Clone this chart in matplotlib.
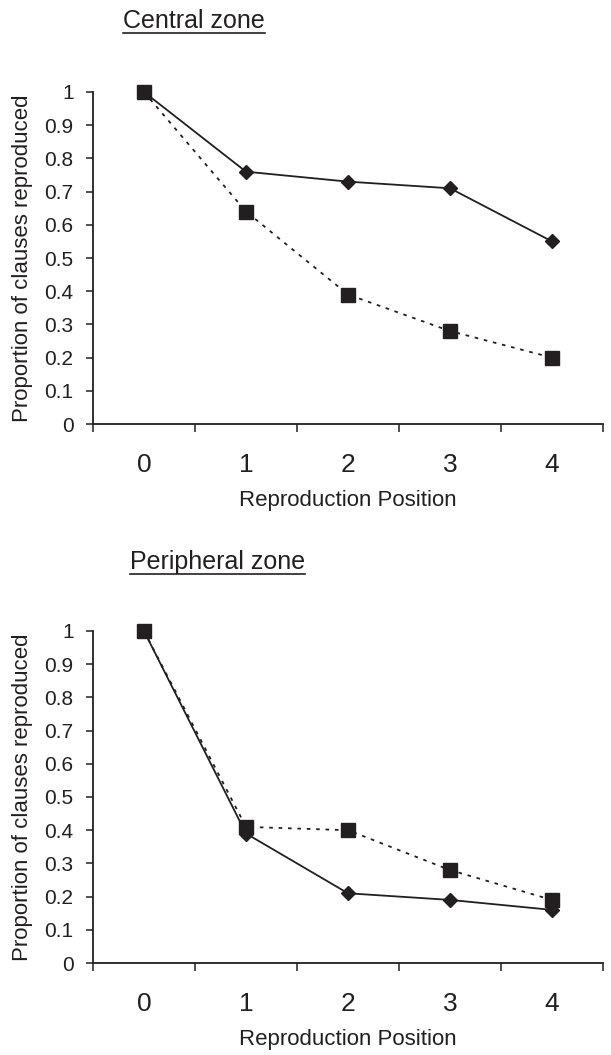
import matplotlib
matplotlib.use("Agg")
import matplotlib.pyplot as plt
from matplotlib.lines import Line2D

plt.rcParams['font.family'] = ['Liberation Sans', 'DejaVu Sans']

positions = [0, 1, 2, 3, 4]
pos_labels = ['0', '1', '2', '3', '4']
y_ticks = [0, 0.1, 0.2, 0.3, 0.4, 0.5, 0.6, 0.7, 0.8, 0.9, 1]
y_labels = ['0', '0.1', '0.2', '0.3', '0.4', '0.5', '0.6', '0.7', '0.8', '0.9', '1']

# central zone
central_diamond = [1.0, 0.76, 0.73, 0.71, 0.55]
central_square = [1.0, 0.64, 0.39, 0.28, 0.20]
# peripheral zone
periph_diamond = [1.0, 0.39, 0.21, 0.19, 0.16]
periph_square = [1.0, 0.41, 0.40, 0.28, 0.19]

ink = '#231f20'

fig = plt.figure(figsize=(6.11, 10.55), dpi=100)
ax1 = fig.add_axes([0.1522, 0.5981, 0.8347, 0.3147])
ax2 = fig.add_axes([0.1522, 0.0872, 0.8347, 0.3147])


def draw_panel(ax, diamond, square):
    ax.plot(positions, diamond, color=ink, lw=1.3, marker='D', ms=7,
            mfc=ink, mec=ink, clip_on=False, zorder=3)
    ax.plot(positions, square, color=ink, lw=1.3, ls=(0, (2, 3.2)), marker='s',
            ms=10, mfc=ink, mec=ink, clip_on=False, zorder=4)
    ax.set_xlim(-0.5, 4.5)
    ax.set_ylim(0, 1)
    ax.set_xticks([p - 0.5 for p in positions] + [4.5])
    ax.set_xticklabels([])
    ax.set_xticks(positions, minor=True)
    ax.set_xticklabels(pos_labels, minor=True, fontsize=19, color=ink)
    ax.tick_params(axis='x', which='minor', length=0, pad=21)
    ax.tick_params(axis='x', which='major', direction='out', length=5.5, width=1.1, color=ink)
    ax.set_yticks(y_ticks)
    ax.set_yticklabels(y_labels, fontsize=15, color=ink)
    ax.tick_params(axis='y', direction='out', length=5, width=1.1, color=ink, pad=9)
    for s in ['top', 'right']:
        ax.spines[s].set_visible(False)
    for s in ['left', 'bottom']:
        ax.spines[s].set_linewidth(1.3)
        ax.spines[s].set_color(ink)
    ax.set_xlabel('Reproduction Position', fontsize=16, color=ink)
    ax.xaxis.set_label_coords(0.5, -0.2)
    ax.set_ylabel('Proportion of clauses reproduced', fontsize=16, color=ink)
    ax.yaxis.set_label_coords(-0.118, 0.5)


draw_panel(ax1, central_diamond, central_square)
draw_panel(ax2, periph_diamond, periph_square)

t1 = fig.text(123 / 611, 1 - 28 / 1055, 'Central zone', fontsize=18, color=ink,
              ha='left', va='baseline')
t2 = fig.text(130 / 611, 1 - 569 / 1055, 'Peripheral zone', fontsize=18, color=ink,
              ha='left', va='baseline')

# underline the titles
fig.canvas.draw()
r = fig.canvas.get_renderer()
for t, uy in [(t1, 32.5), (t2, 573.5)]:
    bb = t.get_window_extent(r).transformed(fig.transFigure.inverted())
    fig.add_artist(Line2D([bb.x0, bb.x1], [1 - uy / 1055, 1 - uy / 1055],
                          transform=fig.transFigure, color=ink, lw=1.2))

fig.savefig('out.png', dpi=100)
